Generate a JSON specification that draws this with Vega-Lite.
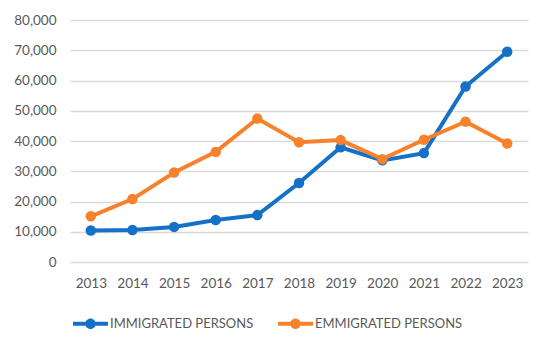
{
  "$schema": "https://vega.github.io/schema/vega-lite/v6.json",
  "autosize": {"type": "none"},
  "padding": {"left": 70, "top": 20, "right": 22, "bottom": 81},
  "width": 458,
  "height": 242,
  "background": "white",
  "config": {
    "view": {"stroke": null},
    "font": "Lato",
    "axis": {"labelFont": "Lato", "labelFontSize": 13.5, "labelColor": "#595959"},
    "legend": {"labelFont": "Lato", "labelFontSize": 13, "labelColor": "#595959"}
  },
  "data": {
    "values": [
      {"year": "2013", "series": "IMMIGRATED PERSONS", "value": 10400},
      {"year": "2014", "series": "IMMIGRATED PERSONS", "value": 10600},
      {"year": "2015", "series": "IMMIGRATED PERSONS", "value": 11600},
      {"year": "2016", "series": "IMMIGRATED PERSONS", "value": 13900},
      {"year": "2017", "series": "IMMIGRATED PERSONS", "value": 15500},
      {"year": "2018", "series": "IMMIGRATED PERSONS", "value": 26100},
      {"year": "2019", "series": "IMMIGRATED PERSONS", "value": 37900},
      {"year": "2020", "series": "IMMIGRATED PERSONS", "value": 33600},
      {"year": "2021", "series": "IMMIGRATED PERSONS", "value": 36000},
      {"year": "2022", "series": "IMMIGRATED PERSONS", "value": 58000},
      {"year": "2023", "series": "IMMIGRATED PERSONS", "value": 69500},
      {"year": "2013", "series": "EMMIGRATED PERSONS", "value": 15100},
      {"year": "2014", "series": "EMMIGRATED PERSONS", "value": 20800},
      {"year": "2015", "series": "EMMIGRATED PERSONS", "value": 29600},
      {"year": "2016", "series": "EMMIGRATED PERSONS", "value": 36400},
      {"year": "2017", "series": "EMMIGRATED PERSONS", "value": 47400},
      {"year": "2018", "series": "EMMIGRATED PERSONS", "value": 39600},
      {"year": "2019", "series": "EMMIGRATED PERSONS", "value": 40300},
      {"year": "2020", "series": "EMMIGRATED PERSONS", "value": 34000},
      {"year": "2021", "series": "EMMIGRATED PERSONS", "value": 40400},
      {"year": "2022", "series": "EMMIGRATED PERSONS", "value": 46400},
      {"year": "2023", "series": "EMMIGRATED PERSONS", "value": 39200}
    ]
  },
  "mark": {"type": "line", "strokeWidth": 4, "point": {"size": 110, "filled": true, "opacity": 1}},
  "encoding": {
    "x": {
      "field": "year", "type": "ordinal",
      "scale": {"type": "point", "padding": 0.5},
      "axis": {"title": null, "labelAngle": 0, "domain": false, "ticks": false, "grid": false, "labelPadding": 14}
    },
    "y": {
      "field": "value", "type": "quantitative",
      "scale": {"domain": [0, 80000], "nice": false},
      "axis": {"title": null, "values": [0,10000,20000,30000,40000,50000,60000,70000,80000], "format": ",d", "domain": false, "ticks": false, "gridColor": "#d9d9d9", "gridWidth": 1.3, "labelPadding": 14}
    },
    "color": {
      "field": "series", "type": "nominal",
      "scale": {"domain": ["IMMIGRATED PERSONS", "EMMIGRATED PERSONS"], "range": ["#1570C8", "#F7822B"]},
      "legend": {
        "title": null, "orient": "none", "legendX": 3, "legendY": 286, "direction": "horizontal",
        "symbolType": "M-1,-0.12H1V0.12H-1Z M0.3,0A0.3,0.3 0 1,1 -0.3,0A0.3,0.3 0 1,1 0.3,0Z",
        "symbolSize": 1225, "symbolStrokeWidth": 0, "columnPadding": 24, "labelOffset": 2,
        "encode": {"symbols": {"update": {"fill": {"scale": "color", "field": "value"}, "opacity": {"value": 1}}}}
      }
    }
  }
}
